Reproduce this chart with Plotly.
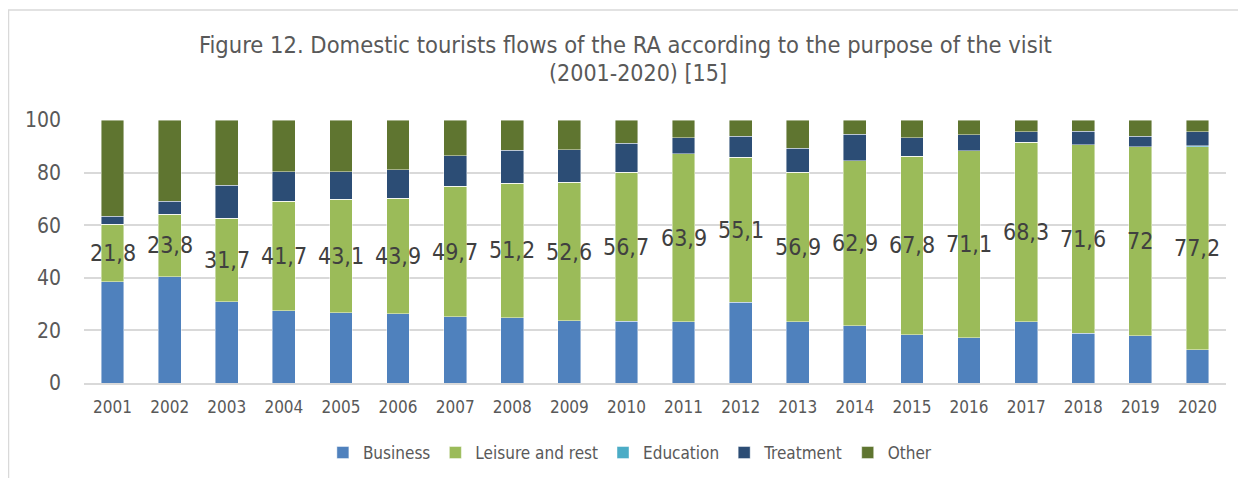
import plotly.graph_objects as go

years = [str(y) for y in range(2001, 2021)]
business = [38.5, 40.4, 30.9, 27.4, 26.8, 26.3, 25.1, 24.8, 23.7, 23.4,
            23.3, 30.8, 23.3, 21.7, 18.4, 17.3, 23.2, 18.9, 17.9, 12.6]
leisure = [21.8, 23.8, 31.7, 41.7, 43.1, 43.9, 49.7, 51.2, 52.6, 56.7,
           63.9, 55.1, 56.9, 62.9, 67.8, 71.1, 68.3, 71.6, 72.0, 77.2]
education = [0, 0, 0, 0, 0, 0, 0, 0, 0, 0,
             0, 0, 0, 0, 0, 0, 0, 0, 0, 0.5]
treatment = [3.2, 4.9, 12.6, 11.2, 10.4, 10.8, 11.6, 12.5, 12.4, 11.0,
             6.1, 8.0, 9.0, 9.9, 7.1, 6.0, 4.1, 5.3, 3.9, 5.3]
other = [36.5, 30.9, 24.8, 19.7, 19.7, 19.0, 13.6, 11.5, 11.3, 8.9,
         6.7, 6.1, 10.8, 5.5, 6.7, 5.6, 4.4, 4.2, 6.2, 4.4]

title_line1 = "Figure 12. Domestic tourists flows of the RA according to the purpose of the visit"
title_line2 = "(2001-2020) [15]"

series = [
    ("Business", business, "#4F81BD"),
    ("Leisure and rest", leisure, "#9BBB59"),
    ("Education", education, "#4BACC6"),
    ("Treatment", treatment, "#2C4D75"),
    ("Other", other, "#5F7530"),
]

FONT = "DejaVu Sans Condensed, DejaVu Sans, sans-serif"

# the page adds an 8px offset; the figure is sized/positioned to compensate
FW, FH = 1238, 470
L, T, W, H = 76, 112, 1142, 263


def px(xp):
    return (xp - L) / W


def py(yp):
    return (T + H - yp) / H


fig = go.Figure()
for name, vals, color in series:
    fig.add_trace(go.Bar(
        x=years, y=vals, name=name,
        marker=dict(color=color, line=dict(color="rgba(255,255,255,0.55)", width=0.8)),
        hoverinfo="x+y+name",
    ))


def fmt(v):
    s = ("%.1f" % v).rstrip("0").rstrip(".")
    return s.replace(".", ",")


annotations = []
for i, (b, l) in enumerate(zip(business, leisure)):
    annotations.append(dict(
        x=i, y=b + l / 2, xref="x", yref="y", text=fmt(l), showarrow=False,
        font=dict(family=FONT, size=23, color="#404040"),
        xanchor="center", yanchor="middle",
    ))

annotations.append(dict(
    x=px(617.5), y=py(37), xref="paper", yref="paper", text=title_line1, showarrow=False,
    font=dict(family=FONT, size=23.5, color="#595959"), xanchor="center", yanchor="middle",
))
annotations.append(dict(
    x=px(630), y=py(65), xref="paper", yref="paper", text=title_line2, showarrow=False,
    font=dict(family=FONT, size=23, color="#595959"), xanchor="center", yanchor="middle",
))

shapes = [
    dict(type="line", xref="paper", yref="paper", x0=px(0), x1=px(FW + 5), y0=py(2), y1=py(2),
         line=dict(color="#D9D9D9", width=1.5)),
    dict(type="line", xref="paper", yref="paper", x0=px(0.5), x1=px(0.5), y0=py(2), y1=py(FH + 5),
         line=dict(color="#D9D9D9", width=1.5)),
]

fig.update_layout(
    barmode="stack",
    bargap=0.6,
    width=FW, height=FH,
    margin=dict(l=L, r=FW - L - W, t=T, b=FH - T - H, autoexpand=False),
    paper_bgcolor="white", plot_bgcolor="white",
    font=dict(family=FONT, color="#595959"),
    xaxis=dict(
        type="category", showgrid=False, showline=True, linecolor="#D9D9D9", linewidth=1.5,
        ticks="", tickfont=dict(family=FONT, size=17, color="#595959"),
        ticklabelstandoff=8, range=[-0.5, 19.5],
    ),
    yaxis=dict(
        range=[0, 100], tickvals=[0, 20, 40, 60, 80, 100],
        showgrid=True, gridcolor="#D9D9D9", gridwidth=1.5,
        zeroline=False, showline=False, ticks="",
        tickfont=dict(family=FONT, size=21, color="#595959"),
        ticklabelstandoff=22,
    ),
    legend=dict(
        orientation="h", x=0.478, xanchor="center", y=-0.1976, yanchor="top",
        font=dict(family=FONT, size=17, color="#595959"),
        itemwidth=30, traceorder="normal",
    ),
    annotations=annotations,
    shapes=shapes,
)

fig.write_html("out.html")
